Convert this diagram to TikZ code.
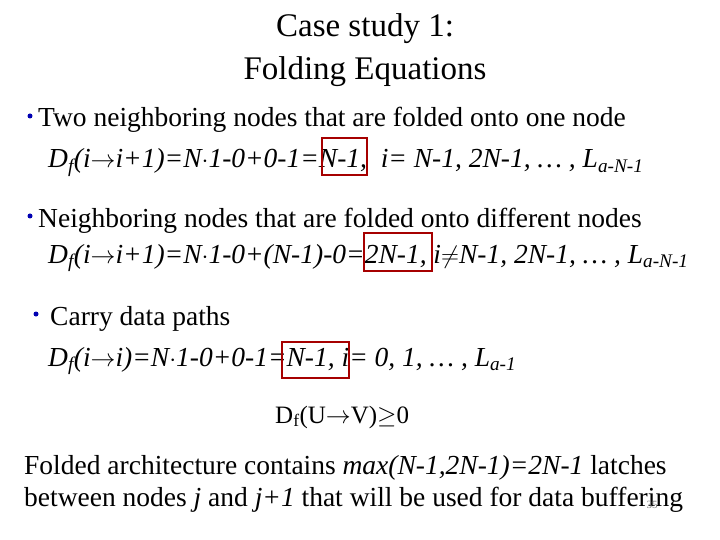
\documentclass[tikz,border=0pt]{standalone}
\usepackage{fontspec}
\setmainfont{Liberation Serif}
\begin{document}
\begin{tikzpicture}[x=1pt,y=-1pt,
  txt/.style={anchor=base west,inner sep=0pt,font=\fontsize{27.5}{30}\selectfont},
  eq/.style={anchor=base west,inner sep=0pt,font=\fontsize{27.5}{30}\selectfont\itshape},
  bul/.style={circle,fill=blue!70!black,inner sep=0pt,minimum size=5pt},
  hl/.style={draw=red!65!black,line width=1.6pt}]
\useasboundingbox (0,0) rectangle (720,540);
\node[anchor=base,inner sep=0pt,font=\fontsize{33}{36}\selectfont] (title) at (365,37) {Case study 1:};
\node[anchor=base,inner sep=0pt,font=\fontsize{33}{36}\selectfont] (title2) at (365,80) {Folding Equations};
\node[bul] (b1) at (30,116) {};
\node[txt] (t1) at (38,127) {Two neighboring nodes that are folded onto one node};
\node[eq] (e1) at (48,168) {D\textsubscript{f}(i$\rightarrow$i+1)=N$\cdot$1-0+0-1=N-1,\ \ i= N-1, 2N-1, \dots\ , L\textsubscript{a-N-1}};
\node[bul] (b2) at (30,216) {};
\node[txt] (t2) at (38,227) {Neighboring nodes that are folded onto different nodes};
\node[eq] (e2) at (48,263) {D\textsubscript{f}(i$\rightarrow$i+1)=N$\cdot$1-0+(N-1)-0=2N-1, i$\neq$N-1, 2N-1, \dots\ , L\textsubscript{a-N-1}};
\node[bul] (b3) at (36,314) {};
\node[txt] (t3) at (50,325) {Carry data paths};
\node[eq] (e3) at (48,366) {D\textsubscript{f}(i$\rightarrow$i)=N$\cdot$1-0+0-1=N-1, i= 0, 1, \dots\ , L\textsubscript{a-1}};
\node[txt,font=\fontsize{25}{28}\selectfont] (e4) at (275,423) {D\textsubscript{f}(U$\rightarrow$V)$\geq$0};
\node[txt,font=\fontsize{27.5}{30}\selectfont] (c1) at (24,474) {Folded architecture contains \textit{max(N-1,2N-1)=2N-1} latches};
\node[txt,font=\fontsize{27.5}{30}\selectfont] (c2) at (24,506) {between nodes \textit{j} and \textit{j+1} that will be used for data buffering};
\node[anchor=base,inner sep=0pt,font=\fontsize{11}{13}\selectfont,text=gray] (pg) at (652,508) {35};
\draw[hl] (322,138) rectangle (367,175);
\draw[hl] (364,233) rectangle (432,271);
\draw[hl] (282,342) rectangle (349,378);
\end{tikzpicture}
\end{document}
